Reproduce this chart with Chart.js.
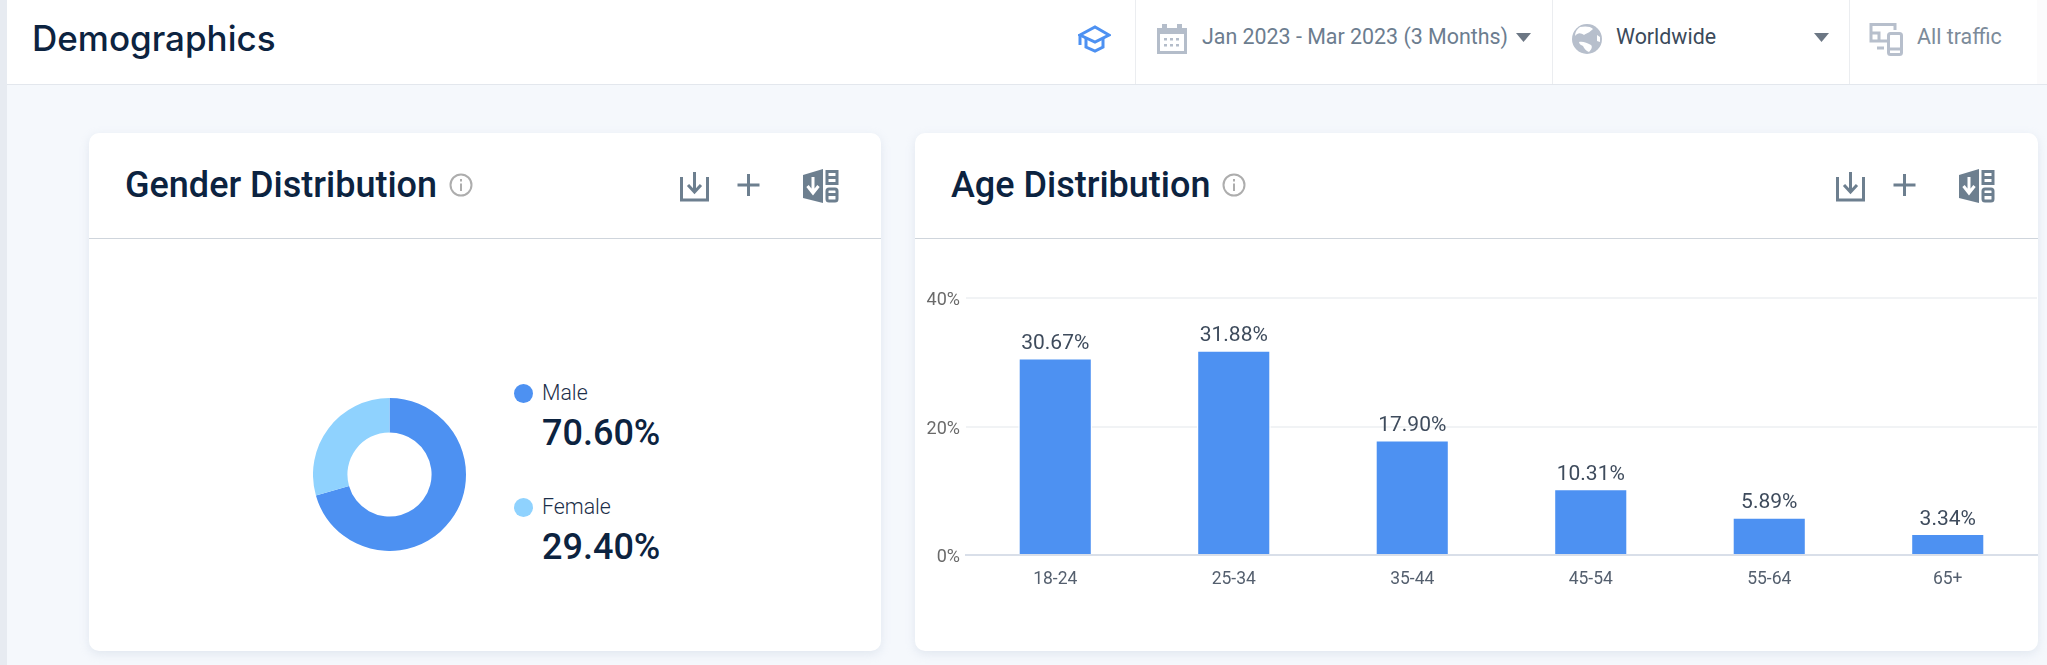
<!DOCTYPE html>
<html>
<head>
<meta charset="utf-8">
<title>Demographics</title>
<script src="https://cdn.jsdelivr.net/npm/chart.js@4"></script>
<style>
html, body { margin: 0; padding: 0; }
body { width: 2047px; height: 665px; overflow: hidden; position: relative; background: #f5f8fc; font-family: Roboto, sans-serif; }
.abs { position: absolute; white-space: nowrap; }
#strip { left: 0; top: 0; width: 7px; height: 665px; background: #e7ebf1; }
#header { left: 7px; top: 0; width: 2040px; height: 84px; background: #fff; border-bottom: 1px solid #e3e7ed; }
.sep { top: 0; width: 1px; height: 84px; background: #ebedf0; }
#pageTitle { left: 32px; top: 18px; font: 500 35px/40px Inter, sans-serif; letter-spacing: 0; color: #0c2340; }
.filter { font-size: 21.4px; line-height: 24px; top: 25px; }
.card { top: 133px; height: 518px; background: #fff; border-radius: 10px; box-shadow: 0 3px 10px rgba(180, 192, 212, 0.3); }
.rule { top: 238px; height: 1px; background: #cfd5dc; }
.cardTitle { top: 164px; font: 500 36px/42px Roboto, sans-serif; color: #0c2340; }
.dot { width: 19px; height: 19px; border-radius: 50%; }
.legendName { font: 300 21.3px/24px Roboto, sans-serif; color: #1c2f4a; }
.legendValue { font: 500 36px/42px Roboto, sans-serif; color: #0c2340; }
canvas { position: absolute; }
</style>
</head>
<body>
<div class="abs" id="strip"></div>
<div class="abs" id="header"></div>
<div class="abs sep" style="left:1135px"></div>
<div class="abs sep" style="left:1552px"></div>
<div class="abs sep" style="left:1849px"></div>
<div class="abs" style="left:2037px;top:0;width:10px;height:84px;background:#fbfbfc"></div>
<div class="abs" id="pageTitle">Demographics</div>

<!-- cap -->
<svg class="abs" style="left:1078px;top:25px" width="33" height="28" viewBox="0 0 33 28" fill="none" stroke="#4d91f2" stroke-width="3">
  <path d="M2 10 L17 2 L31 10 L17 17 Z"/><path d="M2 10 V20"/><path d="M8 13 V22 L17 26 L25 22 V13"/>
</svg>
<!-- calendar -->
<svg class="abs" style="left:1157px;top:24px" width="30" height="30" viewBox="0 0 30 30">
  <path d="M0 4 H5 V0 H10 V4 H20 V0 H25 V4 H30 V30 H0 Z M3 10 V27 H27 V10 Z" fill="#b4bdca" fill-rule="evenodd"/>
  <path d="M7 14h3v2.500h-3zM13 14h3v2.500h-3zM19 14h3v2.500h-3zM7 20h3v2.500h-3zM13 20h3v2.500h-3zM19 20h3v2.500h-3z" fill="#b4bdca"/>
</svg>
<div class="abs filter" style="left:1202px;color:#6c7d8f">Jan 2023 - Mar 2023 (3 Months)</div>
<svg class="abs" style="left:1516px;top:33px" width="15" height="9"><path d="M0 0H15L7.500 9Z" fill="#6c7784"/></svg>
<!-- globe -->
<svg class="abs" style="left:1572px;top:24px" width="30" height="30" viewBox="0 0 30 30">
  <circle cx="15" cy="15" r="15" fill="#b7bfcc"/>
  <path d="M3 12 C6 8 9 9 12 11 C15 9 17 9 21 5 C19 2 12 2 8 3 C5 5 3 8 3 12Z M7 18 C11 17 15 19 19 21 C21 23 19 26 17 28 C14 27 12 24 11 22 C9 21 7 20 7 18Z M25 11 L28 13 L28 18 L25 17Z" fill="#fff"/>
</svg>
<div class="abs filter" style="left:1616px;color:#3b4a5a">Worldwide</div>
<svg class="abs" style="left:1814px;top:33px" width="15" height="9"><path d="M0 0H15L7.500 9Z" fill="#6c7784"/></svg>
<!-- devices -->
<svg class="abs" style="left:1869px;top:22px" width="34" height="34" viewBox="0 0 34 34" fill="none" stroke="#b7bfcc" stroke-width="3">
  <path d="M20 19 H2 V2.500 H26 V8"/><path d="M2 11 H10 V19 M8 26 H15"/>
  <rect x="19.500" y="11.500" width="13" height="21" rx="2"/><path d="M20 27 H32"/>
</svg>
<div class="abs filter" style="left:1917px;color:#7c8b9a">All traffic</div>

<div class="abs card" style="left:89px;width:792px"></div>
<div class="abs card" style="left:915px;width:1123px"></div>
<div class="abs rule" style="left:89px;width:792px"></div>
<div class="abs rule" style="left:915px;width:1123px"></div>
<div class="abs cardTitle" style="left:125px">Gender Distribution</div>
<div class="abs cardTitle" style="left:951px">Age Distribution</div>

<svg width="0" height="0" style="position:absolute">
  <symbol id="info" viewBox="0 0 24 24"><circle cx="12" cy="12" r="10.500" fill="none" stroke="#adadad" stroke-width="2"/><path d="M12 10.500V18M12 6V8.500" stroke="#adadad" stroke-width="2"/></symbol>
  <symbol id="tools" viewBox="0 0 160 34">
    <g fill="none" stroke="#6d7f8f" stroke-width="3">
      <path d="M1.500 8 V31 H27.500 V8"/><path d="M14.500 3 V22"/><path d="M8 16 L14.500 23 L21 16"/>
      <path d="M68.500 5 V27 M57.500 16 H79.500"/>
      <rect x="147" y="2.500" width="10" height="12"/><path d="M147 8.500 H157"/><rect x="147" y="20" width="10" height="12" rx="2"/><path d="M147 25.500 H157"/>
    </g>
    <path d="M123 6 L143 0 V34 L123 29 Z" fill="#6d7f8f"/>
    <path d="M133 8 V22 M127.500 17 L133 24 L138.500 17" fill="none" stroke="#fff" stroke-width="3"/>
  </symbol>
</svg>
<svg class="abs" style="left:449px;top:173px" width="24" height="24"><use href="#info"/></svg>
<svg class="abs" style="left:1222px;top:173px" width="24" height="24"><use href="#info"/></svg>
<svg class="abs" style="left:680px;top:169px" width="160" height="34"><use href="#tools"/></svg>
<svg class="abs" style="left:1836px;top:169px" width="160" height="34"><use href="#tools"/></svg>

<canvas id="chGender" width="153" height="153" style="left:313px;top:398px;width:153px;height:153px"></canvas>
<div id="genderLegend"></div>
<canvas id="chAge" width="1123" height="411" style="left:915px;top:239px;width:1123px;height:411px"></canvas>

<script>
// gender donut
const genderLabels = ['Male', 'Female'];
const genderValues = [70.60, 29.40];
const genderColors = ['#4d91f2', '#8fd2fe'];

// age bars
const ageLabels = ['18-24', '25-34', '35-44', '45-54', '55-64', '65+'];
const ageValues = [30.67, 31.88, 17.90, 10.31, 5.89, 3.34];
const ageTicks = [0, 20, 40];

Chart.defaults.font.family = 'Roboto, sans-serif';
Chart.defaults.animation = false;

new Chart(document.getElementById('chGender'), {
    type: 'doughnut',
    data: {
        labels: genderLabels,
        datasets: [{ data: genderValues, backgroundColor: genderColors, borderWidth: 0 }]
    },
    options: {
        responsive: false,
        cutout: '55%',
        plugins: { legend: { display: false }, tooltip: { enabled: false } }
    }
});

// legend next to the donut
const legendBox = document.getElementById('genderLegend');
genderLabels.forEach(function(name, i) {
    const top = 393 + i * 114;
    legendBox.innerHTML +=
        '<div class="abs dot" style="left:514px;top:' + (top - 9) + 'px;background:' + genderColors[i] + '"></div>' +
        '<div class="abs legendName" style="left:542px;top:' + (top - 12) + 'px">' + name + '</div>' +
        '<div class="abs legendValue" style="left:542px;top:' + (top + 19) + 'px">' + genderValues[i].toFixed(2) + '%</div>';
});

// percent label above each bar
const barLabels = {
    id: 'barLabels',
    afterDatasetsDraw(chart) {
        const ctx = chart.ctx;
        ctx.save();
        ctx.font = '21px Roboto, sans-serif';
        ctx.fillStyle = '#3e4b5c';
        ctx.textAlign = 'center';
        ctx.textBaseline = 'alphabetic';
        chart.getDatasetMeta(0).data.forEach(function(bar, i) {
            ctx.fillText(ageValues[i].toFixed(2) + '%', bar.x, bar.y - 9);
        });
        ctx.restore();
    }
};

new Chart(document.getElementById('chAge'), {
    type: 'bar',
    data: {
        labels: ageLabels,
        datasets: [{
            data: ageValues,
            backgroundColor: '#4d91f2',
            borderColor: '#fff',
            borderWidth: 1.5,
            barPercentage: 0.415,
            categoryPercentage: 1
        }]
    },
    options: {
        responsive: false,
        layout: { padding: { top: 59, right: 1, left: 0, bottom: 0 } },
        plugins: { legend: { display: false }, tooltip: { enabled: false } },
        scales: {
            x: {
                afterFit(axis) { axis.height = 95; },
                grid: { display: false },
                border: { color: '#d9dfe9', width: 2 },
                ticks: { color: '#545f6e', padding: 6, font: { size: 17.5 } }
            },
            y: {
                min: 0,
                max: 40,
                afterFit(axis) { axis.width = 51; },
                afterBuildTicks(axis) { axis.ticks = ageTicks.map(function(v) { return { value: v }; }); },
                grid: {
                    drawTicks: false,
                    lineWidth: 2,
                    color(c) { return c.tick.value === 0 ? '#d9dfe9' : '#f1f3f5'; }
                },
                border: { display: false },
                ticks: {
                    color: '#6a6a6a',
                    padding: 6,
                    labelOffset: 2.5,
                    font: { size: 18 },
                    callback(v) { return v + '%'; }
                }
            }
        }
    },
    plugins: [barLabels]
});
</script>
</body>
</html>
